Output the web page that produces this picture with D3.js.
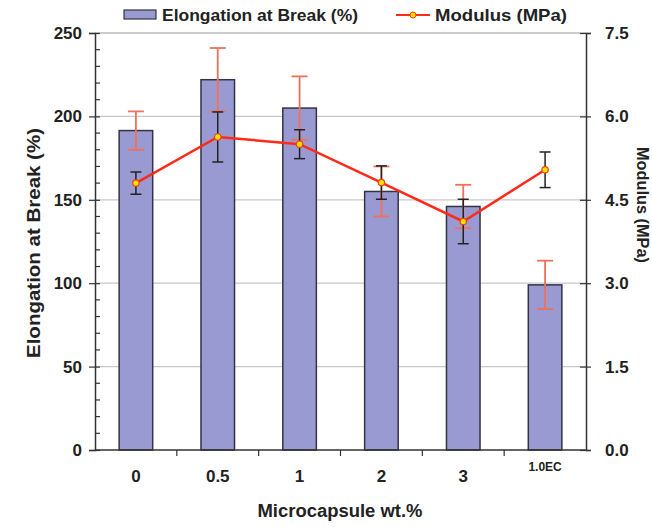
<!DOCTYPE html>
<html><head><meta charset="utf-8">
<script src="https://cdn.jsdelivr.net/npm/d3@7"></script>
<style>body{margin:0;background:#fff}svg{display:block}text{font-family:"Liberation Sans",Arial,sans-serif;font-weight:bold;fill:#222}</style>
</head><body><svg id="c" width="652" height="527"></svg>
<script>
const categories = ["0","0.5","1","2","3","1.0EC"];
const elongation = [191.5, 222, 205, 155, 146, 99];
const elongationErr = [11.5, 19, 19, 15, 13, 14.5];
const modulus = [4.8, 5.63, 5.5, 4.81, 4.11, 5.04];
const modulusErr = [0.2, 0.45, 0.26, 0.3, 0.4, 0.32];
const leftTicks = [0,50,100,150,200,250];
const rightTicks = [0,1.5,3,4.5,6,7.5];

const svg = d3.select("#c");
const L=95, R=586, T=33, B=450;
const x = d3.scaleBand().domain(categories).range([L,R]).paddingInner(0.59).paddingOuter(0.295);
const xc = d3.scaleBand().domain(categories).range([L,R]);
const yL = d3.scaleLinear().domain([0,250]).range([B,T]);
const yR = d3.scaleLinear().domain([0,7.5]).range([B,T]);

// gridlines
svg.append("g").selectAll("line").data(leftTicks.filter(d=>d>0)).join("line")
  .attr("x1",L).attr("x2",R).attr("y1",d=>yL(d)).attr("y2",d=>yL(d))
  .attr("stroke",d=>d===250?"#999":"#c8c8c8").attr("stroke-width",1.2);

// bars
svg.append("g").selectAll("rect").data(elongation).join("rect")
  .attr("x",(d,i)=>x(categories[i])).attr("width",x.bandwidth())
  .attr("y",d=>yL(d)).attr("height",d=>B-yL(d))
  .attr("fill","#9a9ad2").attr("stroke","#333344").attr("stroke-width",1.5);

// bar error bars
const eb = svg.append("g").attr("stroke","#f0705a").attr("stroke-width",1.8);
elongation.forEach((v,i)=>{
  const cx = x(categories[i])+x.bandwidth()/2, e=elongationErr[i];
  eb.append("line").attr("x1",cx).attr("x2",cx).attr("y1",yL(v+e)).attr("y2",yL(v-e));
  [v+e,v-e].forEach(t=>eb.append("line").attr("x1",cx-8).attr("x2",cx+8).attr("y1",yL(t)).attr("y2",yL(t)));
});

// axes
const axL = d3.axisLeft(yL).tickValues(leftTicks).tickSize(6).tickPadding(7).tickFormat(d3.format("d"));
const gL = svg.append("g").attr("transform",`translate(${L},0)`).call(axL);
gL.selectAll(".tick line").attr("x2",-6).attr("x1",5);
// minor ticks
svg.append("g").selectAll("line").data(d3.range(10,250,10).filter(d=>d%50)).join("line")
  .attr("x1",L).attr("x2",L+5).attr("y1",d=>yL(d)).attr("y2",d=>yL(d)).attr("stroke","#333").attr("stroke-width",1.2);

const axR = d3.axisRight(yR).tickValues(rightTicks).tickSize(5).tickPadding(14).tickFormat(d3.format(".1f"));
const gR = svg.append("g").attr("transform",`translate(${R},0)`).call(axR);
gR.selectAll(".tick line").attr("x1",-6);

const axB = d3.axisBottom(xc).tickSize(0).tickPadding(20);
const gB = svg.append("g").attr("transform",`translate(0,${B})`).call(axB);
gB.select(".domain").remove();
svg.append("line").attr("x1",L).attr("x2",R).attr("y1",B).attr("y2",B).attr("stroke","#333").attr("stroke-width",1.5);
svg.append("g").selectAll("line").data(categories.slice(1)).join("line")
  .attr("x1",d=>xc(d)).attr("x2",d=>xc(d)).attr("y1",B).attr("y2",B+6).attr("stroke","#333").attr("stroke-width",1.2);

[gL,gR,gB].forEach(g=>{
  g.select(".domain").attr("stroke","#333").attr("stroke-width",1.5);
  g.selectAll(".tick line").attr("stroke","#333").attr("stroke-width",1.2);
  g.selectAll(".tick text").attr("font-family","Liberation Sans, Arial, sans-serif").attr("font-weight","bold").attr("fill","#222").attr("font-size",17);
});
gB.selectAll(".tick text").filter(d=>d==="1.0EC").attr("font-size",12).attr("dy","0.1em");

// modulus line
const cxm = i => xc(categories[i])+xc.bandwidth()/2;
svg.append("path").datum(modulus)
  .attr("d",d3.line().x((d,i)=>cxm(i)).y(d=>yR(d)))
  .attr("fill","none").attr("stroke","#ff2a18").attr("stroke-width",2.5);

// modulus error bars
const mb = svg.append("g").attr("stroke","#222").attr("stroke-width",1.5);
modulus.forEach((v,i)=>{
  const cx=cxm(i), e=modulusErr[i];
  mb.append("line").attr("x1",cx).attr("x2",cx).attr("y1",yR(v+e)).attr("y2",yR(v-e));
  [v+e,v-e].forEach(t=>mb.append("line").attr("x1",cx-5.5).attr("x2",cx+5.5).attr("y1",yR(t)).attr("y2",yR(t)));
});

svg.append("g").selectAll("circle").data(modulus).join("circle")
  .attr("cx",(d,i)=>cxm(i)).attr("cy",d=>yR(d)).attr("r",3.2)
  .attr("fill","#ffe000").attr("stroke","#f04010").attr("stroke-width",1.2);

// axis titles
svg.append("text").attr("transform","translate(40,243) rotate(-90)").attr("text-anchor","middle").attr("font-size",18)
  .attr("textLength",230).attr("lengthAdjust","spacingAndGlyphs").text("Elongation at Break (%)");
svg.append("text").attr("transform","translate(637,205) rotate(90)").attr("text-anchor","middle").attr("font-size",16)
  .attr("textLength",116).attr("lengthAdjust","spacingAndGlyphs").text("Modulus (MPa)");
svg.append("text").attr("x",340).attr("y",517).attr("text-anchor","middle").attr("font-size",18)
  .attr("textLength",165).attr("lengthAdjust","spacingAndGlyphs").text("Microcapsule wt.%");

// legend
svg.append("rect").attr("x",124).attr("y",10).attr("width",32).attr("height",9).attr("fill","#9a9ad2").attr("stroke","#333344").attr("stroke-width",1.2);
svg.append("text").attr("x",162).attr("y",21).attr("font-size",17)
  .attr("textLength",196).attr("lengthAdjust","spacingAndGlyphs").text("Elongation at Break (%)");
svg.append("line").attr("x1",396).attr("x2",430).attr("y1",15).attr("y2",15).attr("stroke","#ff2a18").attr("stroke-width",2);
svg.append("circle").attr("cx",413).attr("cy",15).attr("r",3).attr("fill","#ffe000").attr("stroke","#f04010");
svg.append("text").attr("x",435).attr("y",21).attr("font-size",17)
  .attr("textLength",132).attr("lengthAdjust","spacingAndGlyphs").text("Modulus (MPa)");
</script></body></html>
